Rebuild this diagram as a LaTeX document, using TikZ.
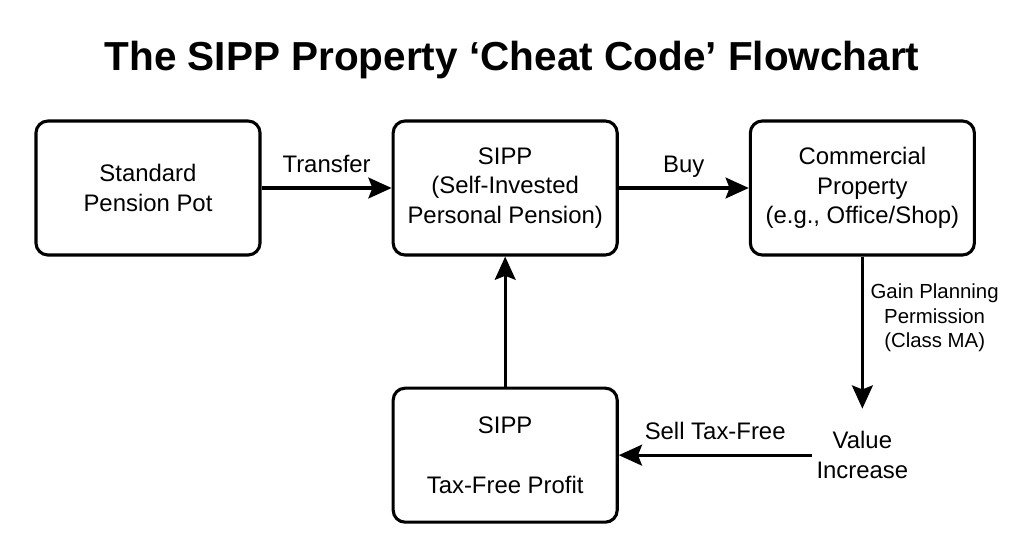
\documentclass[tikz,border=0pt]{standalone}
\usepackage{fontspec}
\setmainfont{Liberation Sans}
\usetikzlibrary{arrows.meta,positioning}

\tikzset{
    stepbox/.style={draw, line width=2.2pt, rounded corners=3mm, minimum width=5.6cm, minimum height=3.35cm, align=center, font=\fontsize{17}{21}\selectfont},
    flow/.style={-{Stealth[length=5.8mm, width=5.2mm, inset=1mm]}, line width=2.2pt},
    label/.style={font=\fontsize{17}{21}\selectfont, align=center},
    edgelabel/.style={font=\fontsize{17}{21}\selectfont, text height=0.75em, text depth=0.25em, above, yshift=1.5mm},
    small/.style={font=\fontsize{14.5}{17.5}\selectfont, align=center}
}

\begin{document}
\begin{tikzpicture}[x=0.025cm, y=-0.025cm]

    \useasboundingbox (0, 0) rectangle (1024, 559);

    \node [font=\bfseries\fontsize{28.8}{32}\selectfont] (title) at (512, 60) {The SIPP Property ‘Cheat Code’ Flowchart};

    \begin{scope}[node distance=3.25cm]
        \node [stepbox] (pot) at (148, 188) {Standard\\Pension Pot};
        \node [stepbox, right=of pot] (sipp) {SIPP\\(Self-Invested\\Personal Pension)};
        \node [stepbox, right=of sipp] (property) {Commercial\\Property\\(e.g., Office/Shop)};
        \node [stepbox, below=of sipp] (profit) {SIPP\\[22pt]Tax-Free Profit};
        \node [label] (value) at (property |- profit) {Value\\Increase};
    \end{scope}

    \draw [flow] (pot) -- (sipp) node [midway, edgelabel] {Transfer};
    \draw [flow] (sipp) -- (property) node [midway, edgelabel] {Buy};
    \draw [flow, shorten >=4.5mm] (property) -- (value) node [pos=0.36, right, small, xshift=0.5mm] {Gain Planning\\Permission\\(Class MA)};
    \draw [flow] (value) -- (profit) node [midway, edgelabel] {Sell Tax-Free};
    \draw [flow] (profit) -- (sipp);

\end{tikzpicture}
\end{document}
